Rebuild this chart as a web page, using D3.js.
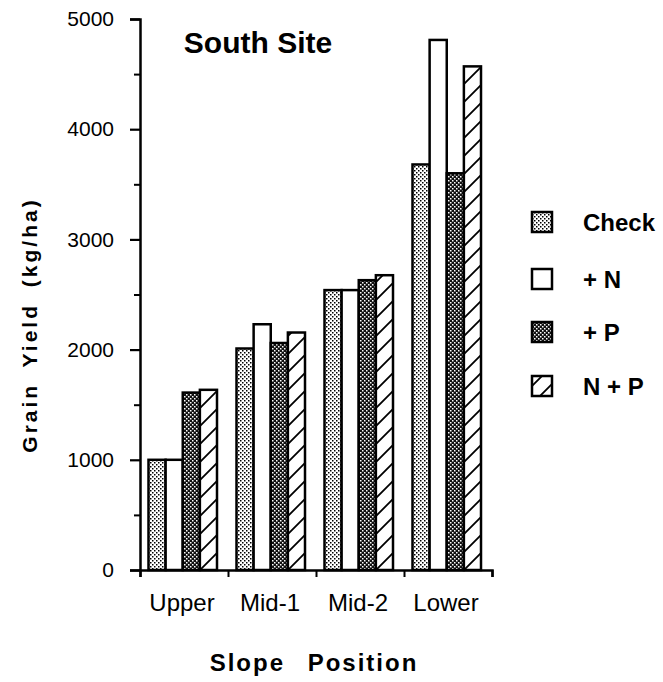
<!DOCTYPE html>
<html>
<head>
<meta charset="utf-8">
<script src="https://cdn.jsdelivr.net/npm/d3@7"></script>
<style>
  body { margin: 0; background: #fff; }
  text { font-family: "Liberation Sans", Arial, Helvetica, sans-serif; fill: #000; }
</style>
</head>
<body>
<div id="chart"></div>
<script>
// data
var positions = ["Upper", "Mid-1", "Mid-2", "Lower"];
var treatments = ["Check", "+ N", "+ P", "N + P"];
var checkYield = [1000, 2010, 2540, 3680];
var nYield     = [1000, 2230, 2540, 4810];
var pYield     = [1610, 2060, 2630, 3600];
var npYield    = [1635, 2155, 2675, 4570];
var yTicks = [0, 1000, 2000, 3000, 4000, 5000];
var yMinor = [500, 1500, 2500, 3500, 4500];

var series = [checkYield, nYield, pYield, npYield];
var fills = ["url(#stipple)", "#fff", "url(#dense)", "url(#hatch)"];

var W = 663, H = 682;
var svg = d3.select("#chart").append("svg")
  .attr("width", W).attr("height", H);

// fill patterns
var defs = svg.append("defs");
var p1 = defs.append("pattern").attr("id", "stipple")
  .attr("patternUnits", "userSpaceOnUse").attr("width", 4).attr("height", 4);
p1.append("rect").attr("width", 4).attr("height", 4).attr("fill", "#fff");
p1.append("rect").attr("x", 0).attr("y", 0).attr("width", 1.5).attr("height", 1.5).attr("fill", "#000");
p1.append("rect").attr("x", 2).attr("y", 2).attr("width", 1.5).attr("height", 1.5).attr("fill", "#000");

var p2 = defs.append("pattern").attr("id", "dense")
  .attr("patternUnits", "userSpaceOnUse").attr("width", 4).attr("height", 4);
p2.append("rect").attr("width", 4).attr("height", 4).attr("fill", "#111");
p2.append("rect").attr("x", 0).attr("y", 0).attr("width", 1.5).attr("height", 1.5).attr("fill", "#fff");
p2.append("rect").attr("x", 2).attr("y", 2).attr("width", 1.5).attr("height", 1.5).attr("fill", "#fff");

var p3 = defs.append("pattern").attr("id", "hatch")
  .attr("patternUnits", "userSpaceOnUse").attr("width", 18).attr("height", 18);
p3.append("rect").attr("width", 18).attr("height", 18).attr("fill", "#fff");
p3.append("path").attr("d", "M0,18L18,0M-2,2L2,-2M16,20L20,16")
  .attr("stroke", "#000").attr("stroke-width", 1.8);

// scales
var x0 = d3.scaleBand().domain(positions).range([140, 492]);
var x1 = d3.scaleBand().domain(treatments).range([8.5, 77]);
var y = d3.scaleLinear().domain([0, 5000]).range([570, 19]);
var xEdge = d3.scaleLinear().domain([0, positions.length]).range([140, 492]);

// bars
var groups = svg.append("g").selectAll("g")
  .data(positions).enter().append("g")
  .attr("transform", function(d) { return "translate(" + x0(d) + ",0)"; });

groups.selectAll("rect")
  .data(function(d, i) {
    return treatments.map(function(t, j) { return {t: t, v: series[j][i], j: j}; });
  })
  .enter().append("rect")
  .attr("x", function(d) { return x1(d.t); })
  .attr("y", function(d) { return y(d.v); })
  .attr("width", x1.bandwidth())
  .attr("height", function(d) { return y(0) - y(d.v); })
  .attr("fill", function(d) { return fills[d.j]; })
  .attr("stroke", "#000")
  .attr("stroke-width", 2.5);

// y axis
var yAxis = svg.append("g").attr("transform", "translate(140,0)")
  .call(d3.axisLeft(y).tickValues(yTicks).tickSize(10).tickPadding(16)
    .tickFormat(d3.format("d")));
yAxis.select(".domain").attr("stroke-width", 2.5);
yAxis.selectAll(".tick line").attr("stroke-width", 2.2);
yAxis.selectAll(".tick text")
  .style("font-family", "Liberation Sans, Arial, sans-serif")
  .style("font-size", "21px");

var yMinorAxis = svg.append("g").attr("transform", "translate(140,0)")
  .call(d3.axisLeft(y).tickValues(yMinor).tickSize(6).tickFormat(""));
yMinorAxis.select(".domain").remove();
yMinorAxis.selectAll(".tick line").attr("stroke-width", 2);

// x axis: ticks at group boundaries, labels at centres
var xAxis = svg.append("g").attr("transform", "translate(0,570)")
  .call(d3.axisBottom(xEdge).ticks(4).tickSize(7).tickFormat(""));
xAxis.select(".domain").attr("stroke-width", 2.5);
xAxis.selectAll(".tick line").attr("stroke-width", 2);

var xLab = svg.append("g").attr("transform", "translate(-2,570)")
  .call(d3.axisBottom(x0).tickSize(0).tickPadding(24));
xLab.select(".domain").remove();
xLab.selectAll(".tick text")
  .style("font-family", "Liberation Sans, Arial, sans-serif")
  .style("font-size", "24px");

// titles
svg.append("text")
  .attr("x", 258).attr("y", 53)
  .attr("text-anchor", "middle")
  .style("font-size", "30px").style("font-weight", "bold")
  .text("South Site");

svg.append("text")
  .attr("x", 314).attr("y", 671)
  .attr("text-anchor", "middle")
  .style("font-size", "24px").style("font-weight", "bold")
  .style("letter-spacing", "2px").style("word-spacing", "14px")
  .text("Slope Position");

svg.append("text")
  .attr("transform", "translate(37,325) rotate(-90)")
  .attr("text-anchor", "middle")
  .style("font-size", "21px").style("font-weight", "bold")
  .style("letter-spacing", "3px").style("word-spacing", "7px")
  .text("Grain Yield (kg/ha)");

// legend
var legY = [222, 279, 332, 386];
var leg = svg.append("g").selectAll("g")
  .data(treatments).enter().append("g")
  .attr("transform", function(d, i) { return "translate(532," + legY[i] + ")"; });
leg.append("rect")
  .attr("x", 0).attr("y", -10).attr("width", 20).attr("height", 20)
  .attr("fill", function(d, i) { return fills[i]; })
  .attr("stroke", "#000").attr("stroke-width", 2.5);
leg.append("text")
  .attr("x", 51).attr("y", 9)
  .style("font-size", "24px").style("font-weight", "bold")
  .text(function(d) { return d; });
</script>
</body>
</html>
